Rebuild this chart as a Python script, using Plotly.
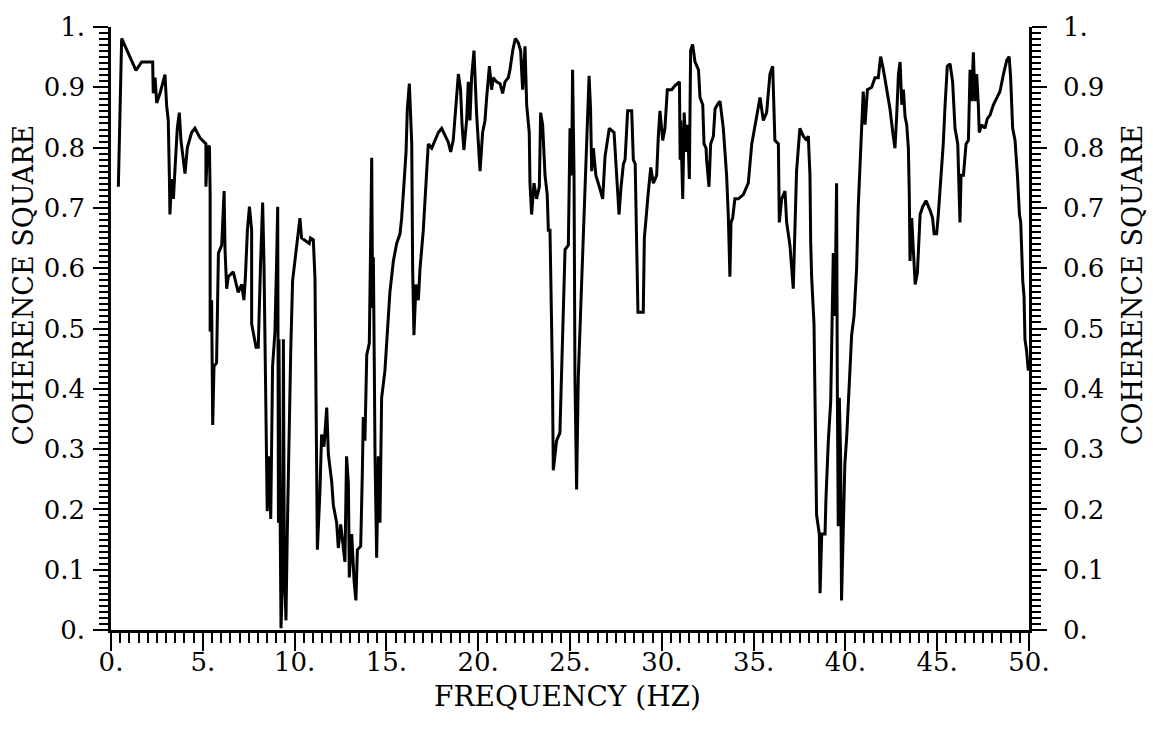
import plotly.graph_objects as go

freq = [0.40, 0.58, 1.36, 1.67, 2.27, 2.30, 2.40, 2.49, 2.67, 2.94, 3.03, 3.12, 3.18, 3.21, 3.30, 3.40, 3.49, 3.61, 3.72, 3.81,
        4.03, 4.16, 4.39, 4.57, 4.85, 5.17, 5.17, 5.25, 5.36, 5.40, 5.40, 5.48, 5.54, 5.61, 5.75, 5.85, 6.03, 6.16, 6.21, 6.30,
        6.39, 6.66, 6.93, 7.12, 7.24, 7.32, 7.43, 7.54, 7.66, 7.66, 7.90, 8.02, 8.15, 8.26, 8.33, 8.39, 8.44, 8.51, 8.62, 8.70,
        8.80, 8.93, 9.02, 9.08, 9.12, 9.15, 9.20, 9.26, 9.35, 9.39, 9.44, 9.53, 9.60, 9.66, 9.79, 9.89, 10.11, 10.29, 10.38, 10.80,
        10.87, 11.02, 11.11, 11.16, 11.20, 11.24, 11.38, 11.47, 11.60, 11.75, 11.84, 12.02, 12.11, 12.29, 12.38, 12.51, 12.62, 12.74, 12.83, 12.93,
        12.98, 13.11, 13.24, 13.34, 13.42, 13.60, 13.69, 13.74, 13.83, 13.93, 14.07, 14.14, 14.20, 14.25, 14.29, 14.34, 14.38, 14.47, 14.56, 14.65,
        14.74, 14.92, 15.05, 15.19, 15.38, 15.56, 15.74, 15.83, 15.96, 16.07, 16.14, 16.25, 16.38, 16.43, 16.50, 16.61, 16.74, 16.83, 17.01, 17.16,
        17.28, 17.47, 17.64, 17.83, 18.01, 18.19, 18.37, 18.50, 18.64, 18.79, 18.92, 19.04, 19.12, 19.22, 19.37, 19.46, 19.55, 19.64, 19.77, 19.91,
        20.00, 20.10, 20.24, 20.37, 20.46, 20.61, 20.73, 20.82, 21.00, 21.19, 21.33, 21.46, 21.64, 21.73, 21.88, 22.02, 22.18, 22.31, 22.42, 22.55,
        22.64, 22.78, 22.82, 22.91, 23.04, 23.18, 23.33, 23.40, 23.51, 23.64, 23.76, 23.82, 23.91, 24.00, 24.04, 24.09, 24.27, 24.45, 24.55, 24.73,
        24.91, 25.00, 25.09, 25.14, 25.22, 25.27, 25.36, 25.45, 25.63, 25.82, 25.94, 26.04, 26.12, 26.18, 26.27, 26.41, 26.60, 26.78, 26.91, 27.14,
        27.40, 27.55, 27.67, 27.78, 27.91, 28.00, 28.14, 28.36, 28.45, 28.55, 28.62, 28.70, 28.99, 29.05, 29.27, 29.40, 29.54, 29.72, 29.81, 29.90,
        30.05, 30.17, 30.30, 30.54, 30.72, 30.96, 31.00, 31.03, 31.14, 31.22, 31.32, 31.41, 31.50, 31.57, 31.68, 31.81, 32.00, 32.08, 32.23, 32.30,
        32.41, 32.44, 32.57, 32.66, 32.81, 32.90, 33.02, 33.17, 33.35, 33.53, 33.62, 33.71, 33.77, 33.86, 33.98, 34.17, 34.44, 34.71, 34.90, 35.16,
        35.35, 35.53, 35.71, 35.89, 36.04, 36.16, 36.35, 36.40, 36.53, 36.71, 36.80, 36.98, 37.16, 37.34, 37.52, 37.71, 37.89, 37.98, 38.07, 38.11,
        38.16, 38.29, 38.34, 38.43, 38.58, 38.62, 38.71, 38.89, 38.94, 39.07, 39.20, 39.30, 39.34, 39.43, 39.52, 39.56, 39.61, 39.67, 39.74, 39.79,
        39.88, 39.97, 40.07, 40.21, 40.34, 40.47, 40.61, 40.70, 40.79, 40.88, 40.97, 41.07, 41.20, 41.43, 41.61, 41.79, 41.92, 42.07, 42.25, 42.43,
        42.58, 42.70, 42.79, 42.89, 42.98, 43.07, 43.16, 43.25, 43.34, 43.43, 43.48, 43.52, 43.61, 43.80, 43.92, 44.07, 44.21, 44.39, 44.61, 44.75,
        44.83, 44.97, 45.06, 45.24, 45.33, 45.43, 45.55, 45.70, 45.84, 45.97, 46.12, 46.24, 46.30, 46.43, 46.57, 46.70, 46.79, 46.88, 46.97, 47.06,
        47.15, 47.24, 47.29, 47.42, 47.60, 47.73, 47.88, 48.06, 48.24, 48.42, 48.61, 48.79, 48.92, 49.00, 49.11, 49.24, 49.37, 49.48, 49.55, 49.60,
        49.66, 49.73, 49.78, 49.87, 49.96]

coherence = [0.735, 0.981, 0.928, 0.942, 0.942, 0.890, 0.916, 0.874, 0.890, 0.921, 0.870, 0.845, 0.751, 0.689, 0.748, 0.715, 0.767, 0.832, 0.858, 0.812,
             0.757, 0.800, 0.825, 0.832, 0.816, 0.806, 0.735, 0.800, 0.803, 0.725, 0.495, 0.547, 0.340, 0.437, 0.443, 0.625, 0.638, 0.728, 0.631, 0.566,
             0.586, 0.594, 0.560, 0.573, 0.547, 0.586, 0.663, 0.702, 0.663, 0.508, 0.469, 0.469, 0.612, 0.709, 0.612, 0.450, 0.346, 0.197, 0.288, 0.184,
             0.437, 0.495, 0.612, 0.702, 0.178, 0.482, 0.236, 0.003, 0.094, 0.482, 0.107, 0.016, 0.159, 0.269, 0.463, 0.579, 0.641, 0.683, 0.650, 0.641,
             0.650, 0.647, 0.583, 0.405, 0.256, 0.133, 0.230, 0.324, 0.304, 0.369, 0.291, 0.246, 0.207, 0.178, 0.136, 0.175, 0.146, 0.113, 0.288, 0.243,
             0.087, 0.159, 0.081, 0.049, 0.133, 0.139, 0.262, 0.353, 0.314, 0.456, 0.476, 0.618, 0.783, 0.534, 0.618, 0.443, 0.288, 0.120, 0.288, 0.178,
             0.385, 0.430, 0.495, 0.560, 0.612, 0.641, 0.657, 0.683, 0.741, 0.793, 0.864, 0.906, 0.806, 0.599, 0.489, 0.573, 0.547, 0.599, 0.663, 0.754,
             0.806, 0.799, 0.812, 0.825, 0.832, 0.819, 0.809, 0.793, 0.812, 0.871, 0.922, 0.896, 0.838, 0.796, 0.845, 0.909, 0.845, 0.916, 0.961, 0.858,
             0.806, 0.761, 0.825, 0.845, 0.883, 0.935, 0.896, 0.916, 0.909, 0.906, 0.890, 0.909, 0.916, 0.929, 0.961, 0.981, 0.974, 0.961, 0.896, 0.968,
             0.871, 0.825, 0.741, 0.689, 0.741, 0.715, 0.735, 0.858, 0.838, 0.754, 0.722, 0.663, 0.663, 0.540, 0.430, 0.265, 0.314, 0.327, 0.424, 0.631,
             0.638, 0.832, 0.754, 0.929, 0.754, 0.417, 0.233, 0.417, 0.573, 0.728, 0.806, 0.919, 0.864, 0.761, 0.799, 0.754, 0.735, 0.715, 0.786, 0.832,
             0.825, 0.754, 0.689, 0.735, 0.773, 0.780, 0.861, 0.861, 0.780, 0.773, 0.650, 0.527, 0.527, 0.650, 0.728, 0.767, 0.741, 0.754, 0.819, 0.861,
             0.812, 0.832, 0.896, 0.896, 0.903, 0.909, 0.780, 0.845, 0.715, 0.858, 0.793, 0.838, 0.748, 0.961, 0.971, 0.942, 0.929, 0.883, 0.871, 0.806,
             0.799, 0.780, 0.735, 0.806, 0.819, 0.864, 0.871, 0.877, 0.832, 0.754, 0.689, 0.586, 0.676, 0.683, 0.715, 0.715, 0.722, 0.741, 0.806, 0.851,
             0.883, 0.845, 0.858, 0.922, 0.935, 0.812, 0.806, 0.676, 0.715, 0.728, 0.676, 0.638, 0.566, 0.761, 0.832, 0.819, 0.812, 0.819, 0.754, 0.644,
             0.586, 0.508, 0.379, 0.191, 0.159, 0.061, 0.159, 0.159, 0.217, 0.314, 0.379, 0.534, 0.625, 0.521, 0.741, 0.405, 0.172, 0.385, 0.288, 0.049,
             0.159, 0.275, 0.320, 0.405, 0.489, 0.521, 0.599, 0.702, 0.773, 0.838, 0.893, 0.838, 0.896, 0.900, 0.916, 0.916, 0.951, 0.929, 0.896, 0.864,
             0.825, 0.799, 0.851, 0.922, 0.942, 0.871, 0.896, 0.851, 0.838, 0.799, 0.722, 0.612, 0.683, 0.573, 0.592, 0.689, 0.702, 0.712, 0.696, 0.683,
             0.657, 0.657, 0.689, 0.761, 0.806, 0.871, 0.935, 0.939, 0.909, 0.832, 0.806, 0.676, 0.754, 0.754, 0.806, 0.812, 0.929, 0.877, 0.958, 0.877,
             0.922, 0.871, 0.825, 0.838, 0.832, 0.848, 0.854, 0.871, 0.883, 0.893, 0.922, 0.945, 0.951, 0.916, 0.832, 0.812, 0.754, 0.689, 0.676, 0.618,
             0.579, 0.553, 0.482, 0.463, 0.430]

x_tick_vals = [0, 5, 10, 15, 20, 25, 30, 35, 40, 45, 50]
x_tick_text = ["0.", "5.", "10.", "15.", "20.", "25.", "30.", "35.", "40.", "45.", "50."]
y_tick_vals = [0, 0.1, 0.2, 0.3, 0.4, 0.5, 0.6, 0.7, 0.8, 0.9, 1.0]
y_tick_text = ["0.", "0.1", "0.2", "0.3", "0.4", "0.5", "0.6", "0.7", "0.8", "0.9", "1."]

FONT = "DejaVu Serif"

fig = go.Figure()
fig.add_trace(go.Scatter(x=freq, y=coherence, mode="lines",
                         line=dict(color="black", width=3), showlegend=False, hoverinfo="skip"))
fig.add_trace(go.Scatter(x=[0], y=[0], mode="markers", marker=dict(opacity=0),
                         yaxis="y2", showlegend=False, hoverinfo="skip"))

yax_common = dict(range=[0, 1], showgrid=False, zeroline=False, showline=True,
                  linecolor="black", linewidth=2.5, ticks="outside", ticklen=15,
                  tickwidth=2, tickcolor="black", tickmode="array",
                  tickvals=y_tick_vals, ticktext=y_tick_text,
                  tickfont=dict(family=FONT, size=26, color="black"),
                  minor=dict(dtick=0.01, tick0=0, ticks="outside", ticklen=9,
                             tickwidth=1.8, tickcolor="black", showgrid=False))

fig.update_layout(
    width=1153, height=736,
    margin=dict(l=111, r=124, t=21, b=106),
    plot_bgcolor="white", paper_bgcolor="white",
    xaxis=dict(range=[0, 50], showgrid=False, zeroline=False, showline=True,
               linecolor="black", linewidth=2.5, ticks="outside", ticklen=18,
               tickwidth=2, tickcolor="black", tickmode="array",
               tickvals=x_tick_vals, ticktext=x_tick_text,
               tickfont=dict(family=FONT, size=26, color="black"),
               ticklabelstandoff=-11,
               minor=dict(dtick=0.5, tick0=0, ticks="outside", ticklen=10,
                          tickwidth=1.8, tickcolor="black", showgrid=False)),
    yaxis=dict(**yax_common, side="left", ticklabelstandoff=3),
    yaxis2=dict(**yax_common, side="right", overlaying="y", anchor="x", ticklabelstandoff=11),
    annotations=[
        dict(text="FREQUENCY (HZ)", xref="paper", yref="paper", x=0.497, y=-0.111,
             showarrow=False, font=dict(family=FONT, size=28, color="black"),
             xanchor="center", yanchor="middle"),
        dict(text="COHERENCE SQUARE", xref="paper", yref="paper", x=-0.0948, y=0.573,
             textangle=-90, showarrow=False, font=dict(family=FONT, size=27, color="black"),
             xanchor="center", yanchor="middle"),
        dict(text="COHERENCE SQUARE", xref="paper", yref="paper", x=1.113, y=0.573,
             textangle=-90, showarrow=False, font=dict(family=FONT, size=27, color="black"),
             xanchor="center", yanchor="middle"),
    ],
)

fig.write_html("out.html")
